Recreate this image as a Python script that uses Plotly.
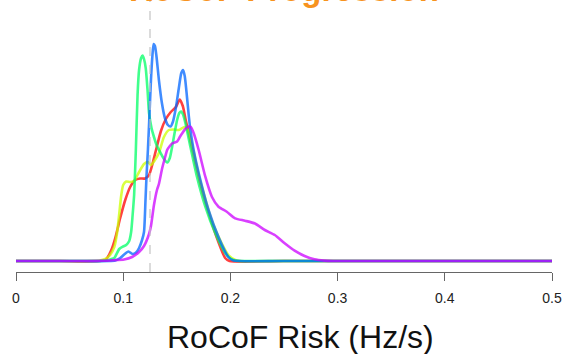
import plotly.graph_objects as go

# Density estimates of RoCoF risk (Hz/s), one series per scenario year
red_x = [0.0, 0.04, 0.0833, 0.0889, 0.0926, 0.0972, 0.1019, 0.1065, 0.1111, 0.1157, 0.1204, 0.1241,
         0.1278, 0.1306, 0.1352, 0.1398, 0.1444, 0.1491, 0.1528, 0.1556, 0.1583, 0.1611, 0.1673,
         0.1734, 0.1827, 0.1905, 0.1951, 0.1991, 0.25, 0.5]
red_y = [0, 0, 0.1, 1.1, 2.3, 4.3, 6.1, 7.4, 8.1, 8.25, 8.25, 8.6,
         9.9, 11.1, 13.0, 14.2, 14.9, 15.4, 16.15, 15.5, 14.1, 12.8, 9.8,
         7.1, 3.8, 1.43, 0.3, 0, 0, 0]

yellow_x = [0.0, 0.04, 0.0778, 0.0833, 0.0870, 0.0917, 0.0944, 0.0963, 0.0981, 0.1, 0.1028, 0.1065,
            0.1102, 0.1148, 0.1194, 0.1231, 0.1259, 0.1296, 0.1333, 0.138, 0.1426, 0.1472, 0.1519,
            0.1574, 0.1611, 0.1657, 0.1704, 0.175, 0.1824, 0.1917, 0.1981, 0.2046, 0.2083, 0.25, 0.5]
yellow_y = [0, 0, 0.05, 0.2, 0.5, 1.4, 2.9, 4.7, 6.5, 7.6, 7.95, 7.9,
            8.0, 8.9, 9.7, 9.9, 9.6, 10.1, 10.8, 12.4, 13.1, 13.15, 13.1,
            13.4, 12.9, 10.9, 8.6, 6.8, 4.1, 1.8, 0.6, 0.1, 0, 0, 0]

green_x = [0.0, 0.04, 0.0852, 0.0889, 0.0917, 0.0963, 0.1, 0.1028, 0.1056, 0.1074, 0.1088, 0.1102,
           0.1118, 0.1134, 0.1148, 0.1167, 0.1181, 0.1194, 0.121, 0.1227, 0.1241, 0.1264, 0.1287,
           0.1315, 0.1349, 0.138, 0.141, 0.1435, 0.1456, 0.1481, 0.1503, 0.1523, 0.154, 0.156,
           0.158, 0.1627, 0.1688, 0.1766, 0.1858, 0.1951, 0.2, 0.2044, 0.25, 0.5]
green_y = [0, 0, 0.05, 0.2, 0.3, 1.2, 1.45, 1.6, 2.0, 2.9, 4.6, 6.6,
           11.1, 16.6, 19.1, 20.3, 20.55, 20.2, 19.3, 17.1, 14.8, 13.3, 12.4,
           11.5, 10.8, 10.2, 9.85, 10.3, 11.4, 12.9, 14.1, 14.8, 14.95, 14.6,
           13.8, 11.43, 8.43, 5.43, 2.8, 0.8, 0.25, 0.05, 0, 0]

blue_x = [0.0, 0.05, 0.0926, 0.0972, 0.1009, 0.1049, 0.1086, 0.112, 0.1148, 0.1176, 0.1194, 0.1208,
          0.1218, 0.1231, 0.1245, 0.1259, 0.1273, 0.1284, 0.1296, 0.131, 0.1333, 0.1361, 0.1389,
          0.1417, 0.1442, 0.1463, 0.1491, 0.1519, 0.1542, 0.1558, 0.1574, 0.1595, 0.1611, 0.1627,
          0.1657, 0.1704, 0.1796, 0.1889, 0.1981, 0.2028, 0.25, 0.5]
blue_y = [0, 0, 0.05, 0.3, 0.65, 0.95, 0.7, 0.85, 1.3, 2.1, 2.9, 6.1,
          8.6, 11.2, 14.6, 18.1, 20.6, 21.7, 21.5, 20.5, 18.1, 15.8, 14.3,
          13.6, 13.45, 13.9, 15.3, 17.3, 18.8, 19.1, 18.5, 16.4, 14.6, 13.1,
          11.1, 8.8, 5.1, 2.4, 0.4, 0.05, 0, 0]

purple_x = [0.0, 0.04, 0.0824, 0.0898, 0.1009, 0.1083, 0.1148, 0.1194, 0.1241, 0.1259, 0.1287, 0.1315,
            0.1333, 0.1364, 0.1389, 0.141, 0.1435, 0.1456, 0.1481, 0.1503, 0.1528, 0.1549, 0.1583,
            0.1611, 0.163, 0.1657, 0.1704, 0.1766, 0.1827, 0.1889, 0.1966, 0.2044, 0.2136, 0.2229,
            0.2321, 0.2414, 0.2506, 0.2599, 0.2692, 0.2784, 0.2877, 0.2963, 0.35, 0.5]
purple_y = [0, 0, 0.02, 0.07, 0.15, 0.4, 0.9, 1.5, 2.7, 3.5, 5.6, 7.1,
            7.7, 9.3, 10.3, 11.1, 11.5, 11.75, 11.85, 11.95, 12.4, 12.75, 13.25,
            13.45, 13.4, 12.8, 11.1, 8.43, 6.43, 5.43, 4.93, 4.27, 4.03, 3.75,
            3.1, 2.6, 1.77, 1.03, 0.5, 0.17, 0.04, 0, 0, 0]

series = [
    (red_x, red_y, "rgba(255,0,0,0.75)"),
    (yellow_x, yellow_y, "rgba(204,255,0,0.75)"),
    (green_x, green_y, "rgba(0,255,102,0.75)"),
    (blue_x, blue_y, "rgba(0,102,255,0.75)"),
    (purple_x, purple_y, "rgba(204,0,255,0.75)"),
]

tick_vals = [0, 0.1, 0.2, 0.3, 0.4, 0.5]
tick_text = ["0", "0.1", "0.2", "0.3", "0.4", "0.5"]
threshold = 0.125

fig = go.Figure()
for xs, ys, col in series:
    fig.add_trace(go.Scatter(
        x=xs, y=ys, mode="lines",
        line=dict(color=col, width=2.6, shape="spline", smoothing=0.6),
        hoverinfo="skip", showlegend=False,
    ))

fig.add_shape(type="line", xref="x", yref="paper", x0=threshold, x1=threshold, y0=0, y1=1,
              line=dict(color="#c4c4c4", width=1.2, dash="dash"))

# Main title sits above the plotting region
fig.add_annotation(text="<b>RoCoF Progression</b>", xref="paper", yref="paper", x=0.5, y=1,
                   xanchor="center", yanchor="bottom", yshift=-10, showarrow=False,
                   font=dict(family="Liberation Sans", size=33, color="#F7931E"))

# Axis caption under the tick labels
fig.add_annotation(text="RoCoF Risk (Hz/s)", xref="paper", yref="paper", x=0.53, y=0,
                   xanchor="center", yanchor="top", yshift=-45, showarrow=False,
                   font=dict(family="Liberation Sans", size=32, color="#111"))

fig.update_layout(
    width=562, height=354,
    margin=dict(l=16, r=6, t=0, b=82),
    paper_bgcolor="white", plot_bgcolor="white",
    font=dict(family="Liberation Sans", color="#222"),
    xaxis=dict(
        range=[0, 0.5], showgrid=False, zeroline=False,
        showline=True, linecolor="#666", linewidth=1.3,
        ticks="outside", ticklen=8, tickwidth=1.3, tickcolor="#666",
        tickvals=tick_vals, ticktext=tick_text,
        tickfont=dict(size=14, color="#222"),
        ticklabeloverflow="allow", ticklabelstandoff=5,
    ),
    yaxis=dict(range=[-1.1, 26.1], visible=False),
)

fig.write_html("out.html")
